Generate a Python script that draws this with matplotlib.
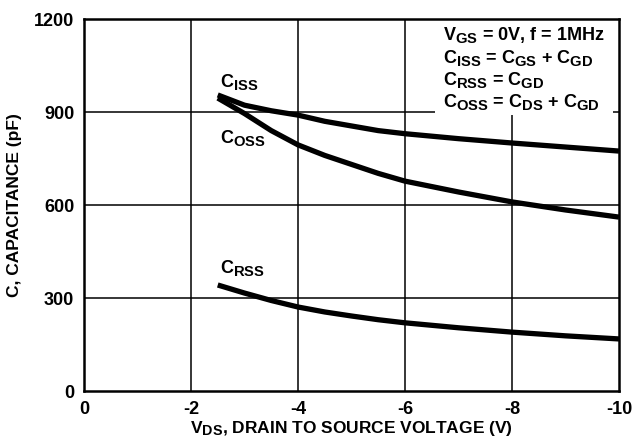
import matplotlib.pyplot as plt
import matplotlib._mathtext as mathtext_core
from matplotlib.patches import Rectangle

plt.rcParams['font.family'] = 'Liberation Sans'
plt.rcParams['font.weight'] = 'bold'
plt.rcParams['axes.labelweight'] = 'bold'
plt.rcParams['mathtext.fontset'] = 'custom'
plt.rcParams['mathtext.rm'] = 'Liberation Sans:bold'
plt.rcParams['mathtext.it'] = 'Liberation Sans:bold'
plt.rcParams['mathtext.bf'] = 'Liberation Sans:bold'
plt.rcParams['mathtext.default'] = 'bf'
# larger subscripts, as in datasheet typesetting
mathtext_core.SHRINK_FACTOR = 0.82

# capacitance vs drain-source voltage
vds = [-2.5, -3, -3.5, -4, -4.5, -5, -5.5, -6, -7, -8, -9, -10]
ciss = [955, 922, 904, 890, 870, 855, 840, 830, 814, 800, 787, 774]
coss = [945, 895, 840, 794, 760, 731, 702, 677, 642, 610, 584, 561]
crss = [342, 316, 292, 271, 255, 242, 230, 220, 204, 190, 178, 168]

xticks = [0, -2, -4, -6, -8, -10]
yticks = [0, 300, 600, 900, 1200]

curve_labels = ['C$_{ISS}$', 'C$_{OSS}$', 'C$_{RSS}$']
curve_label_y = [981, 800, 381]

note_lines = ['V$_{GS}$ = 0V, f = 1MHz',
              'C$_{ISS}$ = C$_{GS}$ + C$_{GD}$',
              'C$_{RSS}$ = C$_{GD}$',
              'C$_{OSS}$ = C$_{DS}$ + C$_{GD}$']
note_y = [1132, 1058, 987, 916]

fig = plt.figure(figsize=(6.35, 4.45), dpi=100)
ax = fig.add_axes([0.1323, 0.1213, 0.8425, 0.836])

for v in xticks[1:-1]:
    ax.axvline(v, color='black', lw=1.1, zorder=1)
for c in yticks[1:-1]:
    ax.axhline(c, color='black', lw=1.1, zorder=1)

for series in (ciss, coss, crss):
    ax.plot(vds, series, color='black', lw=3.8, solid_capstyle='butt', zorder=3)

ax.set_xlim(0, -10)
ax.set_ylim(0, 1200)
ax.set_xticks(xticks)
ax.set_yticks(yticks)
ax.set_xticklabels(['0', '-2', '-4', '-6', '-8', '-10'])
ax.tick_params(length=0, labelsize=13, pad=7)
for s in ax.spines.values():
    s.set_linewidth(1.8)
    s.set_zorder(6)

ax.set_xlabel('V$_{DS}$, DRAIN TO SOURCE VOLTAGE (V)', fontsize=12.5,
              fontweight='bold', labelpad=1)
ax.set_ylabel('C, CAPACITANCE (pF)', fontsize=12.5, fontweight='bold', labelpad=9)

for label, y in zip(curve_labels, curve_label_y):
    ax.text(-2.54, y, label, fontsize=13, fontweight='bold', va='baseline',
            ha='left', zorder=4)

# white panel for the test conditions, blanking the grid behind it
ax.add_patch(Rectangle((0.656, 0.742), 0.333, 0.26, transform=ax.transAxes,
                       facecolor='white', edgecolor='none', zorder=4))
for line, y in zip(note_lines, note_y):
    ax.text(-6.71, y, line, fontsize=13, fontweight='bold', va='baseline',
            ha='left', zorder=5)

fig.savefig('out.png', dpi=100)
